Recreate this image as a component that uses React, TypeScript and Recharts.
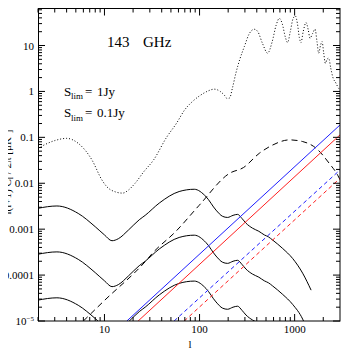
import { LineChart, Line, XAxis, YAxis } from 'recharts';

// multipole ticks (minor + major) and decade labels
const xTicks = [2, 3, 4, 5, 6, 7, 8, 9, 10, 20, 30, 40, 50, 60, 70, 80, 90, 100, 200, 300, 400, 500, 600, 700, 800, 900, 1000, 2000];
const yDecades = [1e-5, 1e-4, 1e-3, 1e-2, 1e-1, 1, 10];
const yDecadeLabels = ['10^-5', '0.0001', '0.001', '0.01', '0.1', '1', '10'];

// CMB power spectrum (dotted)
const cmbSpectrum: [number, number][] = [
  [2, 0.058], [3, 0.085], [4, 0.095], [5.3, 0.074], [7.4, 0.032], [9.4, 0.0118], [10.6, 0.0084],
  [13, 0.0065], [15.5, 0.0061], [18, 0.0072], [21, 0.01], [26, 0.018], [32.8, 0.032], [45, 0.1],
  [57, 0.2], [70, 0.4], [84, 0.6], [100, 0.8], [120, 1.0], [143, 1.12], [165, 1.0], [185, 0.8],
  [195, 0.7], [207, 0.72], [222, 1.2], [241, 2.5], [265, 5], [296, 9.5], [333, 18], [377, 22.6], [410, 20],
  [460, 11], [520, 6.8], [580, 12], [640, 28], [690, 39], [740, 30], [800, 15], [843, 11.6],
  [900, 20], [960, 38], [1016, 44], [1070, 30], [1120, 15], [1166, 11.6], [1230, 20], [1318, 31.6],
  [1390, 22], [1452, 14.4], [1540, 18], [1640, 22.6], [1720, 12], [1790, 6.8], [1870, 10],
  [1943, 12.2], [2020, 7], [2105, 4.1], [2190, 5], [2280, 5.3], [2400, 3.2], [2512, 2.1],
  [2727, 1.5], [2900, 1.17], [3000, 1.1],
];

// black dashed
const dashedBlack: [number, number][] = [
  [6, 1e-5], [10, 2.8e-5], [26.8, 1.96e-4], [32, 3.0e-4], [56.5, 9e-4], [99, 0.0033], [207, 0.0165],
  [290, 0.022], [425, 0.045], [587, 0.068], [880, 0.088], [1214, 0.081], [1680, 0.058],
  [2317, 0.027], [2838, 0.015], [3000, 0.012],
];

// solid black curves
const solidTop: [number, number][] = [
  [2, 0.00285], [3.16, 0.0032], [5.3, 0.0022], [8, 0.00113], [10, 0.00075], [12, 0.00056], [14, 0.00062],
  [17.9, 0.00096], [23.2, 0.0016], [26.8, 0.002], [37.7, 0.0037], [61, 0.0066], [88, 0.0074],
  [117, 0.0051], [149, 0.0026], [175, 0.0019], [197, 0.0018], [225, 0.002], [251, 0.0021],
  [280, 0.0017], [308, 0.00135], [361, 0.00105], [420, 0.0009], [480, 0.00075], [530, 0.00068],
  [587, 0.00058], [748, 0.00038], [953, 0.00023], [1214, 0.00011], [1490, 0.000047],
];
const solidMid: [number, number][] = [
  [2, 0.000285], [3.16, 0.00032], [5.3, 0.00022], [8, 0.000113], [10, 0.000075], [12, 0.000056],
  [14, 0.000062], [17.9, 0.000096], [23.2, 0.00016], [26.8, 0.0002], [37.7, 0.00037], [61, 0.00066],
  [88, 0.00074], [117, 0.00051], [149, 0.00026], [175, 0.00019], [197, 0.00018], [225, 0.0002],
  [251, 0.00021], [280, 0.00017], [308, 0.000135], [361, 0.000105], [420, 0.00009], [480, 0.000075],
  [530, 0.000068], [587, 0.000058], [748, 0.000038], [953, 0.000023], [1214, 0.000011], [1300, 0.000008],
];
const solidLow: [number, number][] = [
  [2, 2.85e-5], [3.16, 3.2e-5], [5.3, 2.2e-5], [8, 1.13e-5], [10, 7.5e-6], [12, 5.6e-6], [14, 6.2e-6],
  [17.9, 9.6e-6], [23.2, 1.6e-5], [26.8, 2e-5], [37.7, 3.7e-5], [61, 6.6e-5], [88, 7.4e-5],
  [117, 5.1e-5], [149, 2.6e-5], [175, 1.9e-5], [197, 1.8e-5], [225, 2e-5], [251, 2.1e-5],
  [280, 1.7e-5], [308, 1.35e-5], [361, 1.05e-5], [420, 9e-6],
];

// shot noise lines (S_lim = 1Jy solid, 0.1Jy dashed)
const blueSolid: [number, number][] = [[17.2, 1e-5], [3000, 0.186]];
const redSolid: [number, number][] = [[22.6, 1e-5], [3000, 0.113]];
const blueDashed: [number, number][] = [[54, 1e-5], [3000, 0.0195]];
const redDashed: [number, number][] = [[69, 1e-5], [3000, 0.0128]];

const toRows = (pts: [number, number][]) => pts.map(([l, v]) => ({ l, v }));

// plot box in page coordinates (chart pulled back over the body margin)
const PLOT = { left: 38, right: 340, top: 8.5, bottom: 321 };
const FONT = 'Liberation Serif, Times New Roman, serif';

const yTicks: number[] = [];
yDecades.forEach((d) => {
  for (let k = 1; k <= 9; k++) {
    const v = d * k;
    if (v <= 64) yTicks.push(v);
  }
});

const isDecade = (v: number) => Math.abs(Math.log10(v) - Math.round(Math.log10(v))) < 1e-6;

const XTick = (props: any) => {
  const { x, payload } = props;
  const v = payload.value;
  const major = isDecade(v);
  const len = major ? 7 : 4;
  return (
    <g>
      <line x1={x} x2={x} y1={PLOT.bottom} y2={PLOT.bottom - len} stroke="#000" />
      <line x1={x} x2={x} y1={PLOT.top} y2={PLOT.top + len} stroke="#000" />
      {major && (
        <text x={x} y={333} textAnchor="middle" fontSize={11} fontFamily={FONT} fill="#000">
          {v}
        </text>
      )}
    </g>
  );
};

const YTick = (props: any) => {
  const { y, payload } = props;
  const v = payload.value;
  const major = isDecade(v);
  const len = major ? 7 : 4;
  const idx = yDecades.findIndex((d) => Math.abs(Math.log10(d) - Math.log10(v)) < 1e-6);
  const label = idx >= 0 ? yDecadeLabels[idx] : '';
  return (
    <g>
      <line x1={PLOT.left} x2={PLOT.left + len} y1={y} y2={y} stroke="#000" />
      <line x1={PLOT.right} x2={PLOT.right - len} y1={y} y2={y} stroke="#000" />
      {major && label === '10^-5' && (
        <text x={34} y={y + 4} textAnchor="end" fontSize={11} fontFamily={FONT} fill="#000">
          10<tspan fontSize={7} dy={-4}>−5</tspan>
        </text>
      )}
      {major && label !== '10^-5' && (
        <text x={34} y={y + 4} textAnchor="end" fontSize={11} fontFamily={FONT} fill="#000">
          {label}
        </text>
      )}
    </g>
  );
};

const series = [
  { key: 'cmb', pts: cmbSpectrum, color: '#000', dash: '1 2', type: 'monotone' },
  { key: 'dashedBlack', pts: dashedBlack, color: '#000', dash: '6 4', type: 'monotone' },
  { key: 'top', pts: solidTop, color: '#000', dash: undefined, type: 'monotone' },
  { key: 'mid', pts: solidMid, color: '#000', dash: undefined, type: 'monotone' },
  { key: 'low', pts: solidLow, color: '#000', dash: undefined, type: 'monotone' },
  { key: 'blueSolid', pts: blueSolid, color: '#1f1fff', dash: undefined, type: 'linear' },
  { key: 'redSolid', pts: redSolid, color: '#ff1f1f', dash: undefined, type: 'linear' },
  { key: 'blueDashed', pts: blueDashed, color: '#1f1fff', dash: '4 3', type: 'linear' },
  { key: 'redDashed', pts: redDashed, color: '#ff1f1f', dash: '4 3', type: 'linear' },
];

const App = () => {
  return (
    <div style={{ position: 'relative', width: 354, height: 354, margin: '-8px 0 0 -8px', fontFamily: FONT }}>
      <LineChart width={354} height={354} margin={{ top: 8.5, right: 14, bottom: 0, left: 0 }}>
        <XAxis
          dataKey="l"
          type="number"
          scale="log"
          domain={[2, 3000]}
          allowDataOverflow
          ticks={xTicks}
          interval={0}
          height={33}
          tickLine={false}
          axisLine={false}
          tick={<XTick />}
        />
        <YAxis
          dataKey="v"
          type="number"
          scale="log"
          domain={[1e-5, 64]}
          allowDataOverflow
          ticks={yTicks}
          interval={0}
          width={38}
          tickLine={false}
          axisLine={false}
          tick={<YTick />}
        />
        {series.map((s) => (
          <Line
            key={s.key}
            data={toRows(s.pts)}
            dataKey="v"
            type={s.type as any}
            stroke={s.color}
            strokeWidth={1}
            strokeDasharray={s.dash}
            dot={false}
            activeDot={false}
            isAnimationActive={false}
          />
        ))}
      </LineChart>

      {/* frame and annotations */}
      <svg
        width={354}
        height={354}
        style={{ position: 'absolute', left: 0, top: 0, pointerEvents: 'none' }}
      >
        <rect x={38.5} y={8.5} width={301.5} height={312.5} fill="none" stroke="#000" strokeWidth={1} />
        <text x={107} y={47} fontSize={15} fontFamily={FONT}>143</text>
        <text x={143} y={47} fontSize={15} fontFamily={FONT}>GHz</text>

        <text x={64} y={95.5} fontSize={13} fontFamily={FONT}>S</text>
        <text x={71} y={99} fontSize={9} fontFamily={FONT}>lim</text>
        <text x={85} y={95.5} fontSize={13} fontFamily={FONT}>=</text>
        <text x={97} y={95.5} fontSize={13} fontFamily={FONT}>1Jy</text>

        <text x={64} y={117} fontSize={13} fontFamily={FONT}>S</text>
        <text x={71} y={120.5} fontSize={9} fontFamily={FONT}>lim</text>
        <text x={85} y={117} fontSize={13} fontFamily={FONT}>=</text>
        <text x={97} y={117} fontSize={13} fontFamily={FONT}>0.1Jy</text>

        <g transform="translate(11,172) rotate(-90)">
          <text x={0} y={0} textAnchor="middle" fontSize={11} fontFamily={FONT} fill="#000">
            l(l+1) C<tspan fontSize={8} dy={2}>l</tspan><tspan dy={-2}> / 2π  [μK</tspan><tspan fontSize={8} dy={-4}>2</tspan><tspan dy={4}>]</tspan>
          </text>
        </g>

        <text x={190} y={348} textAnchor="middle" fontSize={11} fontFamily={FONT}>l</text>
      </svg>
    </div>
  );
};

export default App;
